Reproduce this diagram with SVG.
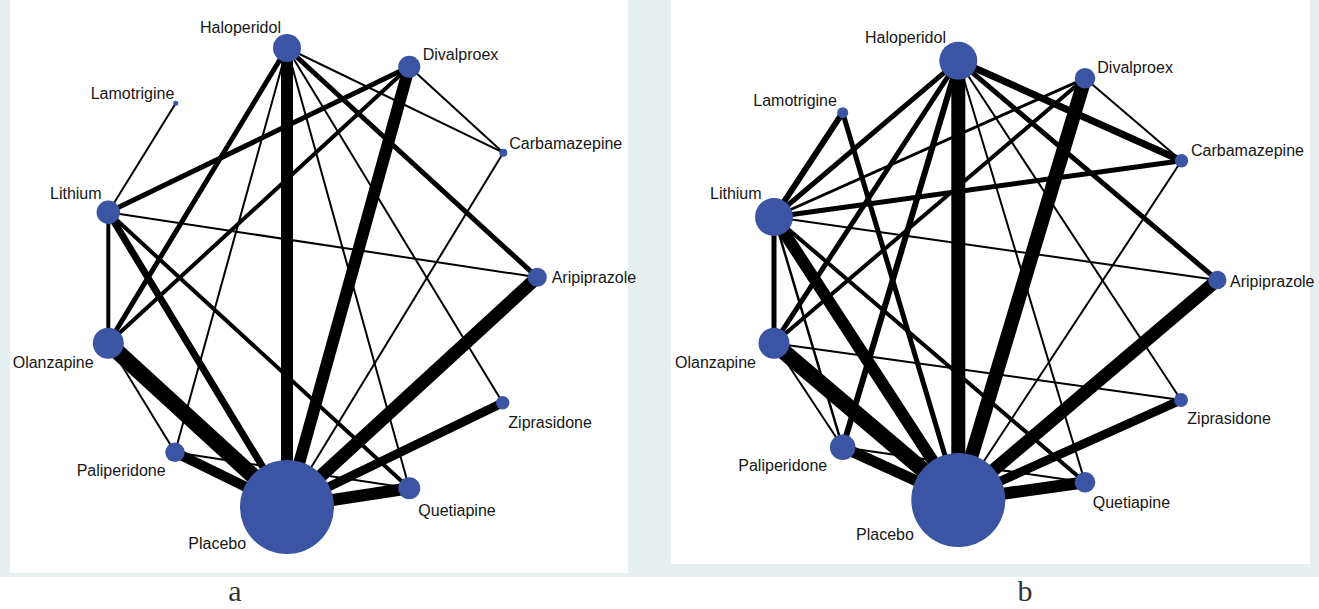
<svg xmlns="http://www.w3.org/2000/svg" width="1319" height="609" viewBox="0 0 1319 609">
<style>
.bg{fill:#e7eff1}
.panel{fill:#ffffff}
.e{stroke:#000;stroke-linecap:butt;fill:none}
.n{fill:#3b54a4}
.l{font-family:"Liberation Sans",Arial,sans-serif;font-size:16px;fill:#161616}
.cap{font-family:"Liberation Serif","Times New Roman",serif;font-size:30px;fill:#333;text-anchor:middle}
</style>
<rect class="bg" x="0" y="0" width="1319" height="577"/>
<rect class="panel" x="10" y="0" width="618" height="573"/>
<rect class="panel" x="671" y="0" width="639" height="564"/>

<g id="edges-a">
<line class="e" stroke-width="12" x1="287" y1="48" x2="287" y2="507"/>
<line class="e" stroke-width="12" x1="409.3" y1="66.7" x2="287" y2="507"/>
<line class="e" stroke-width="13" x1="537.3" y1="277.3" x2="287" y2="507"/>
<line class="e" stroke-width="9" x1="502.7" y1="402.7" x2="287" y2="507"/>
<line class="e" stroke-width="12" x1="409.3" y1="488.3" x2="287" y2="507"/>
<line class="e" stroke-width="16" x1="108.3" y1="343.3" x2="287" y2="507"/>
<line class="e" stroke-width="10" x1="175" y1="452.3" x2="287" y2="507"/>
<line class="e" stroke-width="7" x1="108.3" y1="212.3" x2="287" y2="507"/>
<line class="e" stroke-width="2" x1="503.3" y1="152.7" x2="287" y2="507"/>
<line class="e" stroke-width="5" x1="287" y1="48" x2="537.3" y2="277.3"/>
<line class="e" stroke-width="5" x1="287" y1="48" x2="108.3" y2="343.3"/>
<line class="e" stroke-width="5" x1="108.3" y1="212.3" x2="409.3" y2="66.7"/>
<line class="e" stroke-width="4" x1="108.3" y1="343.3" x2="409.3" y2="66.7"/>
<line class="e" stroke-width="4" x1="108.3" y1="212.3" x2="108.3" y2="343.3"/>
<line class="e" stroke-width="4" x1="108.3" y1="212.3" x2="409.3" y2="488.3"/>
<line class="e" stroke-width="2" x1="287" y1="48" x2="503.3" y2="152.7"/>
<line class="e" stroke-width="2" x1="287" y1="48" x2="502.7" y2="402.7"/>
<line class="e" stroke-width="2" x1="287" y1="48" x2="409.3" y2="488.3"/>
<line class="e" stroke-width="2" x1="287" y1="48" x2="175" y2="452.3"/>
<line class="e" stroke-width="2" x1="409.3" y1="66.7" x2="503.3" y2="152.7"/>
<line class="e" stroke-width="2" x1="108.3" y1="212.3" x2="537.3" y2="277.3"/>
<line class="e" stroke-width="2" x1="108.3" y1="212.3" x2="175.7" y2="103.3"/>
<line class="e" stroke-width="2" x1="108.3" y1="343.3" x2="175" y2="452.3"/>
<line class="e" stroke-width="2" x1="175" y1="452.3" x2="409.3" y2="488.3"/>
</g>

<g id="a-haloperidol"><circle class="n" cx="287" cy="48" r="14"/><text class="l" x="200" y="33">Haloperidol</text></g>
<g id="a-lamotrigine"><circle class="n" cx="175.7" cy="103.3" r="2.5"/><text class="l" x="90.7" y="99">Lamotrigine</text></g>
<g id="a-lithium"><circle class="n" cx="108.3" cy="212.3" r="11.7"/><text class="l" x="50" y="199">Lithium</text></g>
<g id="a-divalproex"><circle class="n" cx="409.3" cy="66.7" r="11"/><text class="l" x="422.7" y="60">Divalproex</text></g>
<g id="a-carbamazepine"><circle class="n" cx="503.3" cy="152.7" r="4"/><text class="l" x="509.3" y="149">Carbamazepine</text></g>
<g id="a-aripiprazole"><circle class="n" cx="537.3" cy="277.3" r="9.5"/><text class="l" x="551.7" y="283">Aripiprazole</text></g>
<g id="a-olanzapine"><circle class="n" cx="108.3" cy="343.3" r="15.5"/><text class="l" x="12.7" y="367.5">Olanzapine</text></g>
<g id="a-paliperidone"><circle class="n" cx="175" cy="452.3" r="9.7"/><text class="l" x="76.7" y="475.5">Paliperidone</text></g>
<g id="a-placebo"><circle class="n" cx="287" cy="507" r="47"/><text class="l" x="188.3" y="548.5">Placebo</text></g>
<g id="a-quetiapine"><circle class="n" cx="409.3" cy="488.3" r="11"/><text class="l" x="418.3" y="515.5">Quetiapine</text></g>
<g id="a-ziprasidone"><circle class="n" cx="502.7" cy="402.7" r="6.7"/><text class="l" x="508.3" y="427.5">Ziprasidone</text></g>

<g id="edges-b">
<line class="e" stroke-width="14" x1="958.3" y1="60.7" x2="958.3" y2="500"/>
<line class="e" stroke-width="14" x1="1085" y1="78.3" x2="958.3" y2="500"/>
<line class="e" stroke-width="13" x1="1217.3" y1="280" x2="958.3" y2="500"/>
<line class="e" stroke-width="12" x1="1085" y1="482.3" x2="958.3" y2="500"/>
<line class="e" stroke-width="9" x1="1181" y1="400" x2="958.3" y2="500"/>
<line class="e" stroke-width="16" x1="774" y1="343.3" x2="958.3" y2="500"/>
<line class="e" stroke-width="11" x1="842.7" y1="447.3" x2="958.3" y2="500"/>
<line class="e" stroke-width="12" x1="774" y1="217" x2="958.3" y2="500"/>
<line class="e" stroke-width="5" x1="842.7" y1="112.7" x2="958.3" y2="500"/>
<line class="e" stroke-width="2" x1="1181.5" y1="160.7" x2="958.3" y2="500"/>
<line class="e" stroke-width="7" x1="958.3" y1="60.7" x2="1181.5" y2="160.7"/>
<line class="e" stroke-width="5" x1="958.3" y1="60.7" x2="1217.3" y2="280"/>
<line class="e" stroke-width="6" x1="958.3" y1="60.7" x2="842.7" y2="447.3"/>
<line class="e" stroke-width="5" x1="958.3" y1="60.7" x2="774" y2="343.3"/>
<line class="e" stroke-width="5" x1="958.3" y1="60.7" x2="774" y2="217"/>
<line class="e" stroke-width="2" x1="958.3" y1="60.7" x2="1181" y2="400"/>
<line class="e" stroke-width="2" x1="958.3" y1="60.7" x2="1085" y2="482.3"/>
<line class="e" stroke-width="6" x1="842.7" y1="112.7" x2="774" y2="217"/>
<line class="e" stroke-width="3" x1="774" y1="217" x2="1085" y2="78.3"/>
<line class="e" stroke-width="5" x1="774" y1="217" x2="1181.5" y2="160.7"/>
<line class="e" stroke-width="2" x1="774" y1="217" x2="1217.3" y2="280"/>
<line class="e" stroke-width="5" x1="774" y1="217" x2="774" y2="343.3"/>
<line class="e" stroke-width="4" x1="774" y1="217" x2="1085" y2="482.3"/>
<line class="e" stroke-width="2.5" x1="774" y1="217" x2="842.7" y2="447.3"/>
<line class="e" stroke-width="2" x1="1085" y1="78.3" x2="1181.5" y2="160.7"/>
<line class="e" stroke-width="4" x1="1085" y1="78.3" x2="774" y2="343.3"/>
<line class="e" stroke-width="2" x1="774" y1="343.3" x2="842.7" y2="447.3"/>
<line class="e" stroke-width="2" x1="774" y1="343.3" x2="1181" y2="400"/>
<line class="e" stroke-width="2" x1="842.7" y1="447.3" x2="1085" y2="482.3"/>
</g>

<g id="b-haloperidol"><circle class="n" cx="958.3" cy="60.7" r="19"/><text class="l" x="865" y="42.5">Haloperidol</text></g>
<g id="b-lamotrigine"><circle class="n" cx="842.7" cy="112.7" r="5.5"/><text class="l" x="753.3" y="106">Lamotrigine</text></g>
<g id="b-lithium"><circle class="n" cx="774" cy="217" r="19"/><text class="l" x="710" y="199">Lithium</text></g>
<g id="b-divalproex"><circle class="n" cx="1085" cy="78.3" r="10.3"/><text class="l" x="1097.3" y="72.5">Divalproex</text></g>
<g id="b-carbamazepine"><circle class="n" cx="1181.5" cy="160.7" r="6.7"/><text class="l" x="1191" y="156">Carbamazepine</text></g>
<g id="b-aripiprazole"><circle class="n" cx="1217.3" cy="280" r="9.2"/><text class="l" x="1230" y="286.5">Aripiprazole</text></g>
<g id="b-olanzapine"><circle class="n" cx="774" cy="343.3" r="15.5"/><text class="l" x="675" y="367.5">Olanzapine</text></g>
<g id="b-paliperidone"><circle class="n" cx="842.7" cy="447.3" r="12.8"/><text class="l" x="738.3" y="471">Paliperidone</text></g>
<g id="b-placebo"><circle class="n" cx="958.3" cy="500" r="47"/><text class="l" x="856" y="540">Placebo</text></g>
<g id="b-quetiapine"><circle class="n" cx="1085" cy="482.3" r="10.3"/><text class="l" x="1092.7" y="508">Quetiapine</text></g>
<g id="b-ziprasidone"><circle class="n" cx="1181" cy="400" r="7"/><text class="l" x="1187.3" y="424">Ziprasidone</text></g>

<text class="cap" x="235" y="601">a</text>
<text class="cap" x="1025" y="601">b</text>
</svg>
